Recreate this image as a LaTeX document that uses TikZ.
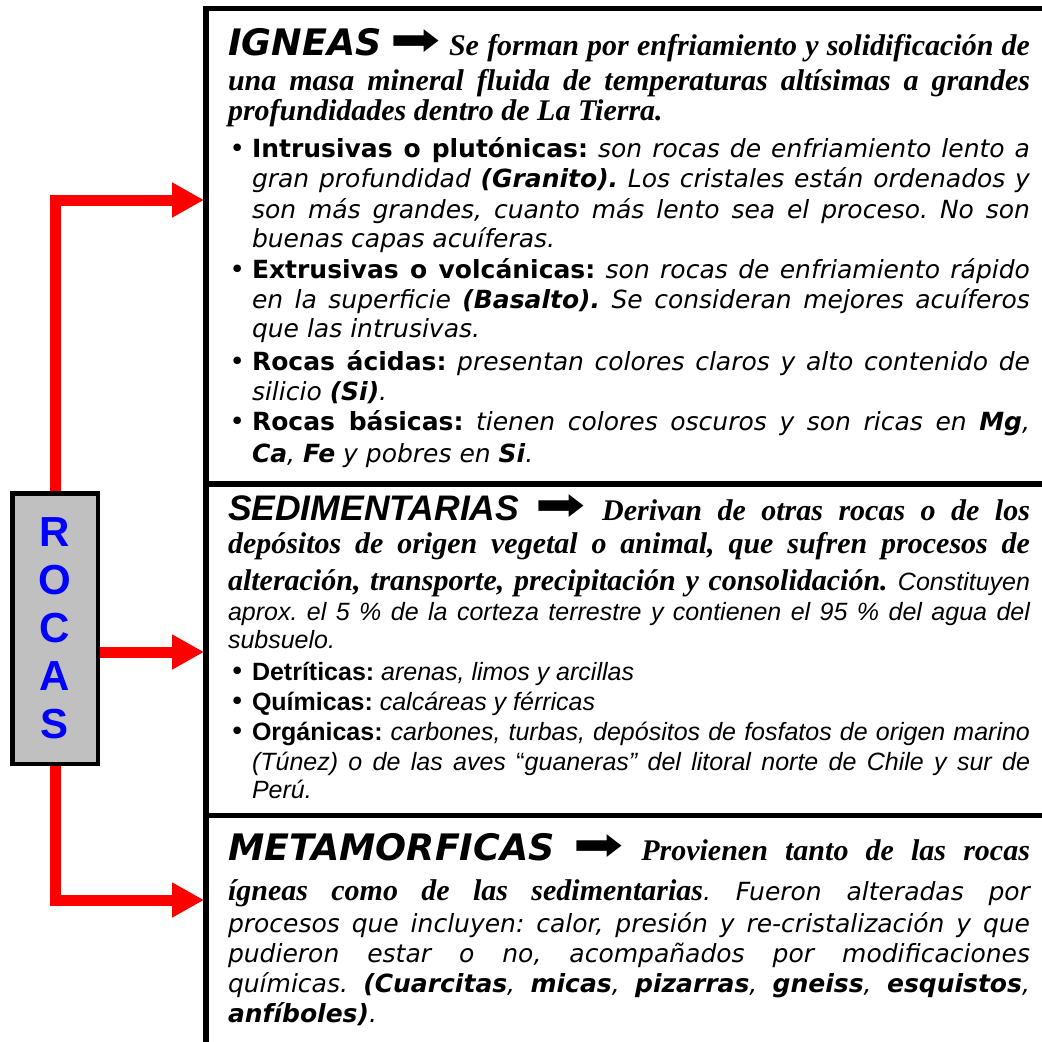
\documentclass[tikz,border=0pt]{standalone}
\usepackage{fontspec}
\usepackage{graphicx}
\setmainfont{Liberation Serif}
\newfontfamily\vdf{DejaVu Sans}
\newfontfamily\arf{Liberation Sans}
\usetikzlibrary{arrows.meta}
\definecolor{arrred}{HTML}{FF0000}
\definecolor{rocblue}{HTML}{0000FF}
\definecolor{rocgray}{HTML}{C0C0C0}
\frenchspacing
\newcommand\fVI{\vdf\mdseries\itshape}
\newcommand\fVB{\vdf\bfseries\upshape}
\newcommand\fVBI{\vdf\bfseries\itshape}
\newcommand\fTBI{\rmfamily\bfseries\itshape\fontsize{30}{30}\selectfont}
\newcommand\fAI{\arf\mdseries\itshape}
\newcommand\fAB{\arf\bfseries\upshape}
\newcommand\fHV{\vdf\bfseries\itshape\fontsize{36.5}{36.5}\selectfont}
\newcommand\fHA{\arf\bfseries\itshape\fontsize{35.5}{35.5}\selectfont}
\newcommand\farr{{\vdf\mdseries\upshape\fontsize{46}{46}\selectfont\scalebox{1.3}[1]{➡}}}
\newcommand\bul{\llap{{\vdf\upshape\mdseries\fontsize{26}{26}\selectfont •}\hskip 7pt}}
\newcommand\jLine[4]{\node[txt] (#1) at (#2,#3) {\makebox[\dimexpr1030pt-#2pt\relax][s]{#4}};}
\newcommand\pLine[4]{\node[txt] (#1) at (#2,#3) {#4};}
\begin{document}
\begin{tikzpicture}[x=1pt,y=-1pt,
 txt/.style={anchor=base west, inner sep=0pt, outer sep=0pt, font=\fontsize{25}{25}\selectfont\fVI},
 secbox/.style={draw=black, line width=5.5pt, anchor=north west, minimum width=900pt, inner sep=0pt, outer sep=0pt},
 rocasbox/.style={draw=black, line width=4.5pt, fill=rocgray, minimum width=85.5pt, minimum height=270.5pt, inner sep=0pt, text=rocblue, font=\arf\bfseries\fontsize{42}{48}\selectfont, align=center},
 redarrow/.style={draw=arrred, line width=11pt, line join=miter, -{Triangle[length=32pt,width=33pt]}}]
\useasboundingbox (0,0) rectangle (1042,1042);
% section frames
\node[secbox, minimum height=475.5pt] (ign) at (206,8.5) {};
\node[secbox, minimum height=331.5pt] (sed) at (206,484) {};
\node[secbox, minimum height=300pt] (met) at (206,815.5) {};
% ROCAS box
\node[rocasbox] (rocas) at (55,628.5) {R\\O\\C\\A\\S};
\coordinate (tipI) at (204,200);
\coordinate (tipS) at (204,652);
\coordinate (tipM) at (204,900);
\draw[redarrow] (rocas.north) |- (tipI);
\draw[redarrow] (rocas.east |- tipS) -- (tipS);
\draw[redarrow] (rocas.south) |- (tipM);
% IGNEAS
\jLine{i1}{228}{55}{{\fHV IGNEAS} \farr{} {\fTBI Se forman por enfriamiento y solidificación de}}
\jLine{i2}{228}{90}{{\fTBI una masa mineral fluida de temperaturas altísimas a grandes}}
\pLine{i3}{228}{120}{{\fTBI profundidades dentro de La Tierra.}}
\jLine{i4}{252}{157}{\bul{\fVB Intrusivas o plutónicas:} son rocas de enfriamiento lento a}
\jLine{i5}{252}{187}{gran profundidad {\fVBI (Granito).} Los cristales están ordenados y}
\jLine{i6}{252}{218}{son más grandes, cuanto más lento sea el proceso. No son}
\pLine{i7}{252}{247}{buenas capas acuíferas.}
\jLine{i8}{252}{278}{\bul{\fVB Extrusivas o volcánicas:} son rocas de enfriamiento rápido}
\jLine{i9}{252}{308}{en la superficie {\fVBI (Basalto).} Se consideran mejores acuíferos}
\pLine{i10}{252}{337}{que las intrusivas.}
\jLine{i11}{252}{370}{\bul{\fVB Rocas ácidas:} presentan colores claros y alto contenido de}
\pLine{i12}{252}{400}{silicio {\fVBI (Si)}.}
\jLine{i13}{252}{430}{\bul{\fVB Rocas básicas:} tienen colores oscuros y son ricas en {\fVBI Mg},}
\pLine{i14}{252}{462}{{\fVBI Ca}, {\fVBI Fe} y pobres en {\fVBI Si}.}
% SEDIMENTARIAS
\jLine{s1}{228}{520}{{\fHA SEDIMENTARIAS} \farr{} {\fTBI Derivan de otras rocas o de los}}
\jLine{s2}{228}{553}{{\fTBI depósitos de origen vegetal o animal, que sufren procesos de}}
\jLine{s3}{228}{590}{{\fTBI alteración, transporte, precipitación y consolidación.} {\fAI Constituyen}}
\jLine{s4}{228}{620}{\fAI aprox. el 5 \% de la corteza terrestre y contienen el 95 \% del agua del}
\pLine{s5}{228}{648}{\fAI subsuelo.}
\pLine{s6}{252}{680}{\fAI\bul{\fAB Detríticas:} arenas, limos y arcillas}
\pLine{s7}{252}{710}{\fAI\bul{\fAB Químicas:} calcáreas y férricas}
\jLine{s8}{252}{740}{\fAI\bul{\fAB Orgánicas:} carbones, turbas, depósitos de fosfatos de origen marino}
\jLine{s9}{252}{770}{\fAI (Túnez) o de las aves {\upshape “}guaneras” del litoral norte de Chile y sur de}
\pLine{s10}{252}{798}{\fAI Perú.}
% METAMORFICAS
\jLine{m1}{228}{860}{{\fHV METAMORFICAS} \farr{} {\fTBI Provienen tanto de las rocas}}
\jLine{m2}{228}{900}{{\fTBI ígneas como de las sedimentarias}. Fueron alteradas por}
\jLine{m3}{228}{932}{procesos que incluyen: calor, presión y re-cristalización y que}
\jLine{m4}{228}{962}{pudieron estar o no, acompañados por modificaciones}
\jLine{m5}{228}{992}{químicas. {\fVBI (Cuarcitas}, {\fVBI micas}, {\fVBI pizarras}, {\fVBI gneiss}, {\fVBI esquistos},}
\pLine{m6}{228}{1022}{{\fVBI anfíboles)}.}
\end{tikzpicture}
\end{document}
